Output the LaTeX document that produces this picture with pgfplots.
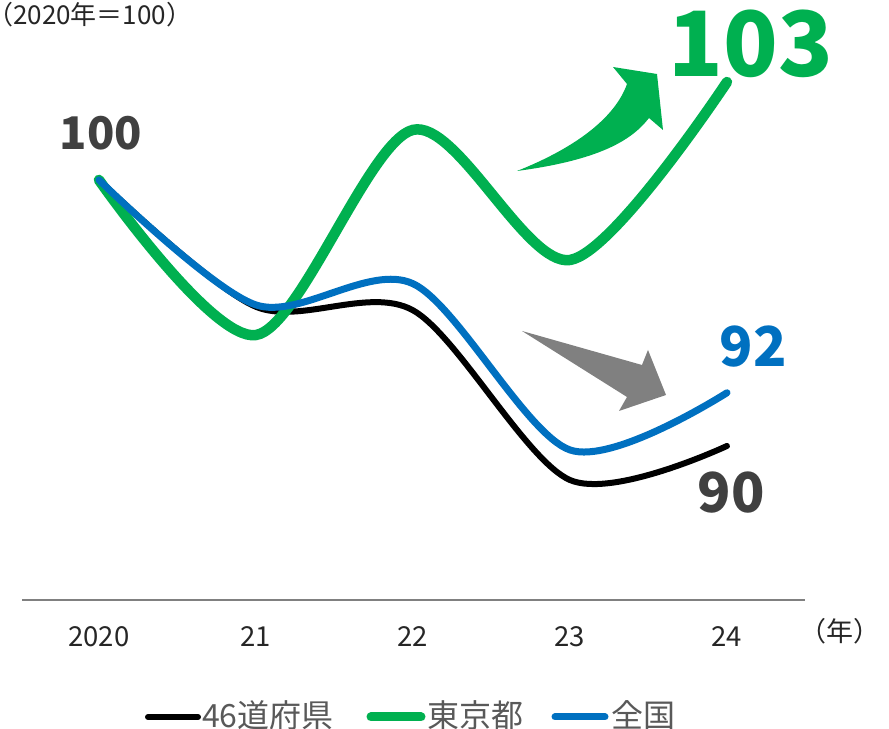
\documentclass[border=0pt]{standalone}
\usepackage{pgfplots}
\pgfplotsset{compat=1.18}
\usepackage{fontspec}
\setmainfont{Noto Sans CJK JP}
\definecolor{cgreen}{HTML}{00B050}
\definecolor{cblue}{HTML}{0070C0}
\definecolor{cdark}{HTML}{404040}
\definecolor{cleg}{HTML}{595959}
\definecolor{caxis}{HTML}{808080}
\begin{document}
\begin{tikzpicture}
\path[use as bounding box] (0,0) rectangle (889bp,729bp);
\begin{axis}[
  at={(22bp,129bp)}, anchor=south west,
  scale only axis, width=783bp, height=601bp,
  xmin=-0.49, xmax=4.497, ymin=84.21, ymax=106.8,
  axis x line=bottom, axis y line=none,
  axis line style={caxis, line width=1.5bp, -},
  xtick={0,1,2,3,4},
  xticklabels={2020,21,22,23,24},
  major tick length=0pt,
  xticklabel style={anchor=base, yshift=-47bp, font=\fontsize{27.5bp}{30bp}\selectfont, text=black!85},
  ytick=\empty,
  clip=false,
]
\addplot[black, line width=6bp, line cap=round, smooth] coordinates {(0,100) (1,95.23) (2,95.1) (3,88.72) (4,90)};
\addplot[cgreen, line width=10.5bp, line cap=round, smooth] coordinates {(0,100) (1,94.17) (2,101.88) (3,96.99) (4,103.68)};
\addplot[cblue, line width=7bp, line cap=round, smooth] coordinates {(0,100) (1,95.3) (2,96.1) (3,89.85) (4,92.0)};
\end{axis}
\begin{scope}[shift={(0,729bp)}, x=1bp, y=-1bp]
  % arrows
  \fill[cgreen] (517,171) .. controls (575,148) and (615,118) .. (627,84) -- (613,67) -- (657,74) -- (663,130) -- (649,118) .. controls (632,140) and (600,160) .. cycle;
  \fill[caxis] (522,331) -- (642,365) -- (648,350) -- (666,395) -- (619,411) -- (627,397) -- cycle;
  % value labels
  \node[text=cdark, font=\fontsize{45bp}{48bp}\selectfont\bfseries, anchor=base, inner sep=0] at (101,150) {100};
  \node[text=cgreen, font=\fontsize{90bp}{94bp}\selectfont\bfseries, anchor=base, inner sep=0] at (751,77) {103};
  \node[text=cblue, font=\fontsize{55bp}{58bp}\selectfont\bfseries, anchor=base, inner sep=0] at (753,367) {92};
  \node[text=cdark, font=\fontsize{55bp}{58bp}\selectfont\bfseries, anchor=base, inner sep=0] at (731,513) {90};
  % unit labels
  \node[text=black!85, font=\fontsize{26bp}{28bp}\selectfont, anchor=base west, inner sep=0] at (-13,25) {（2020年＝100）};
  \node[text=black!85, font=\fontsize{27bp}{30bp}\selectfont, anchor=base, inner sep=0] at (840,642) {（年）};
  % legend
  \draw[black, line width=6bp, line cap=round] (148,717) -- (198,717);
  \node[text=cleg, font=\fontsize{32bp}{36bp}\selectfont, anchor=base west, inner sep=0] at (202,728) {46道府県};
  \draw[cgreen, line width=9bp, line cap=round] (371,717) -- (421,717);
  \node[text=cleg, font=\fontsize{32bp}{36bp}\selectfont, anchor=base west, inner sep=0] at (427,728) {東京都};
  \draw[cblue, line width=7bp, line cap=round] (555,717) -- (605,717);
  \node[text=cleg, font=\fontsize{32bp}{36bp}\selectfont, anchor=base west, inner sep=0] at (611,728) {全国};
\end{scope}
\end{tikzpicture}
\end{document}
